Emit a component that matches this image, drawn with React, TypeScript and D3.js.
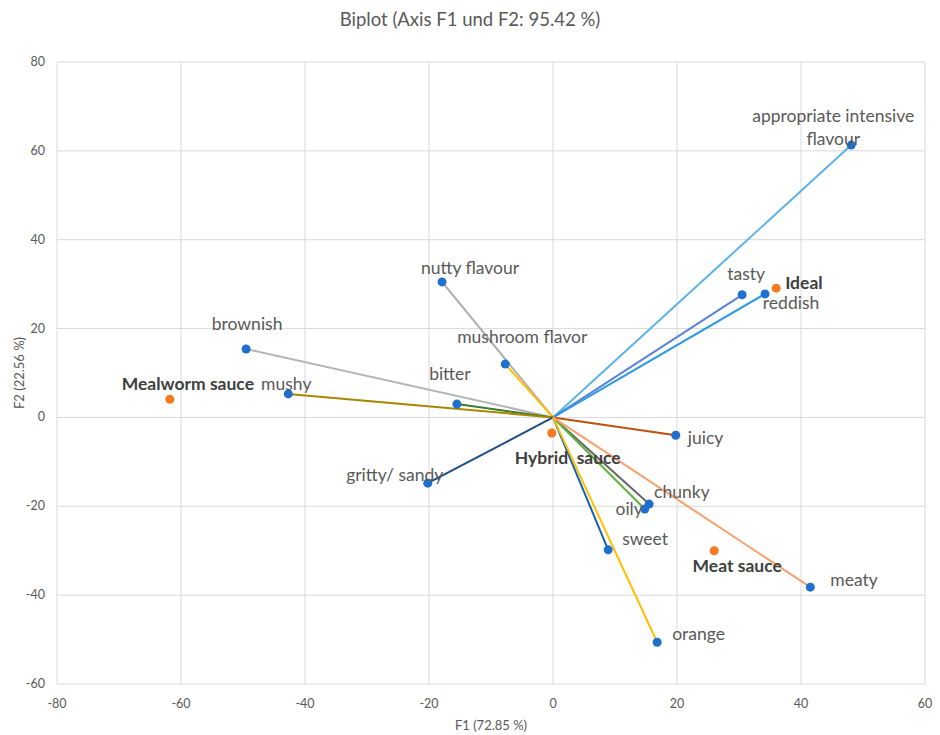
import React from "react";
import * as d3 from "d3";

// Variables (active) — F1 / F2 coordinates
const varNames = [
  "appropriate intensive flavour", "tasty", "reddish", "nutty flavour", "mushroom flavor",
  "brownish", "bitter", "mushy", "juicy", "gritty/ sandy", "chunky", "oily", "sweet", "meaty", "orange",
];
const varF1 = [48.1, 30.5, 34.2, -17.9, -7.7, -49.5, -15.5, -42.7, 19.8, -20.2, 15.5, 14.8, 8.9, 41.5, 16.8];
const varF2 = [61.3, 27.6, 27.8, 30.5, 12.0, 15.4, 3.0, 5.3, -4.0, -14.8, -19.5, -20.6, -29.8, -38.2, -50.6];

// Observations
const obsNames = ["Ideal", "Mealworm sauce", "Hybrid  sauce", "Meat sauce"];
const obsF1 = [36.0, -61.8, -0.2, 26.0];
const obsF2 = [29.1, 4.1, -3.5, -30.0];

const xTicks = [-80, -60, -40, -20, 0, 20, 40, 60];
const yTicks = [-60, -40, -20, 0, 20, 40, 60, 80];

// styles
const lineColors = [
  "#5DB2E6", "#5B84D6", "#2E9AE0", "#ADADAD", "#FFC000",
  "#B4B4B4", "#3B7A2A", "#A88600", "#C0500E", "#1F4E85", "#666666", "#5DB03C", "#1462AE", "#F8A06E", "#FFC000",
];
// label placement: [dx, dy, anchor]
const varLabelPos: [number, number, string][] = [
  [-18, -24, "middle"], [4, -16, "middle"], [26, 14, "middle"], [28, -9, "middle"], [17, -22, "middle"],
  [1, -20, "middle"], [-7, -25, "middle"], [-2, -5, "middle"], [12, 8, "start"], [-33, -3, "middle"],
  [5, -7, "start"], [-2, 5, "end"], [14, -6, "start"], [20, -2, "start"], [15, -3, "start"],
];
const obsLabelPos: [number, number, string][] = [
  [9, 0, "start"], [18, -10, "middle"], [16, 30, "middle"], [23, 20, "middle"],
];

const W = 940, H = 735;
const left = 57, right = 925, top = 62, bottom = 684;

export default function App() {
  const x = d3.scaleLinear().domain([-80, 60]).range([left, right]);
  const y = d3.scaleLinear().domain([-60, 80]).range([bottom, top]);
  const font = "Lato, 'Open Sans', sans-serif";
  const fs = 17.5;
  return (
    <svg width={W} height={H} style={{ position: "absolute", left: 0, top: 0, background: "#fff" }} fontFamily={font}>
      <text x={W / 2} y={26} textAnchor="middle" fontSize={18.5} fill="#595959">Biplot (Axis F1 und F2: 95.42 %)</text>
      {xTicks.map((t) => (
        <line key={"gx" + t} x1={x(t)} x2={x(t)} y1={top} y2={bottom} stroke="#D9D9D9" strokeWidth={1} />
      ))}
      {yTicks.map((t) => (
        <line key={"gy" + t} x1={left} x2={right} y1={y(t)} y2={y(t)} stroke="#D9D9D9" strokeWidth={1} />
      ))}
      {xTicks.map((t) => (
        <text key={"tx" + t} x={x(t)} y={708} textAnchor="middle" fontSize={12.5} fill="#595959">{t}</text>
      ))}
      {yTicks.map((t) => (
        <text key={"ty" + t} x={45} y={y(t) + 4} textAnchor="end" fontSize={12.5} fill="#595959">{t}</text>
      ))}
      <text x={(left + right) / 2} y={730} textAnchor="middle" fontSize={13} fill="#595959">F1 (72.85 %)</text>
      <text transform={`translate(24,${(top + bottom) / 2}) rotate(-90)`} textAnchor="middle" fontSize={13} fill="#595959">F2 (22.56 %)</text>
      {varNames.map((n, i) => (
        <line key={"l" + i} x1={x(0)} y1={y(0)} x2={x(varF1[i])} y2={y(varF2[i])} stroke={lineColors[i]} strokeWidth={2} />
      ))}
      {varNames.map((n, i) => (
        <circle key={"p" + i} cx={x(varF1[i])} cy={y(varF2[i])} r={4.5} fill="#1F6FCF" />
      ))}
      {obsNames.map((n, i) => (
        <circle key={"o" + i} cx={x(obsF1[i])} cy={y(obsF2[i])} r={4.5} fill="#F47A20" />
      ))}
      {varNames.map((n, i) => {
        const [dx, dy, a] = varLabelPos[i];
        const px = x(varF1[i]) + dx, py = y(varF2[i]) + dy + 1;
        if (i === 0) {
          return (
            <text key={"t" + i} x={px} y={py} textAnchor={a as any} fontSize={fs} fill="#595959">
              <tspan x={px} y={py}>appropriate intensive</tspan>
              <tspan x={px} y={py + 23}>flavour</tspan>
            </text>
          );
        }
        return (
          <text key={"t" + i} x={px} y={py} textAnchor={a as any} fontSize={fs} fill="#595959">{n}</text>
        );
      })}
      {obsNames.map((n, i) => {
        const [dx, dy, a] = obsLabelPos[i];
        return (
          <text key={"ot" + i} x={x(obsF1[i]) + dx} y={y(obsF2[i]) + dy + 1} textAnchor={a as any} fontSize={fs} fontWeight="bold" fill="#404040" style={{ whiteSpace: "pre" }}>{n}</text>
        );
      })}
    </svg>
  );
}
